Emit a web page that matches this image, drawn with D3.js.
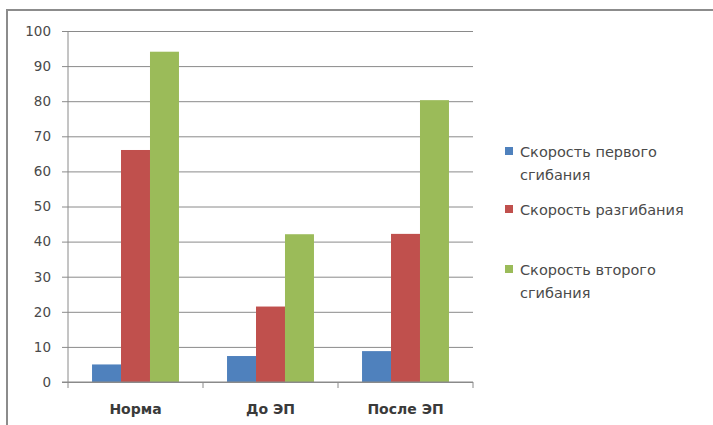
<!DOCTYPE html>
<html><head><meta charset="utf-8">
<script src="https://cdn.jsdelivr.net/npm/d3@7"></script>
<style>body{margin:0;background:#fff;}svg{display:block;}</style>
</head><body>
<svg id="c" width="713" height="425"></svg>
<script>
const categories = ["Норма", "До ЭП", "После ЭП"];
const seriesNames = ["Скорость первого сгибания", "Скорость разгибания", "Скорость второго сгибания"];
const legendLines = [["Скорость первого", "сгибания"], ["Скорость разгибания"], ["Скорость второго", "сгибания"]];
const firstFlex = [5.0, 7.4, 8.8];
const extension = [66.1, 21.5, 42.2];
const secondFlex = [94.1, 42.1, 80.3];
const yTicks = [0, 10, 20, 30, 40, 50, 60, 70, 80, 90, 100];
const colors = ["#4F81BD", "#C0504D", "#9BBB59"];

const series = [firstFlex, extension, secondFlex];
const svg = d3.select("#c");
const font = "'DejaVu Sans', sans-serif";

// outer border (top & left visible)
svg.append("line").attr("x1", 7).attr("x2", 713).attr("y1", 10).attr("y2", 10).attr("stroke", "#8c8c8c").attr("stroke-width", 2);
svg.append("line").attr("x1", 7).attr("x2", 7).attr("y1", 9).attr("y2", 425).attr("stroke", "#8c8c8c").attr("stroke-width", 2);

const L = 68, R = 473, T = 31, B = 382;
const y = d3.scaleLinear().domain([0, 100]).range([B, T]);
const x0 = d3.scaleBand().domain(categories).range([L, R]).paddingInner(0.356).paddingOuter(0.178);
const x1 = d3.scaleBand().domain(d3.range(3)).range([0, x0.bandwidth()]);

// gridlines + y axis
const yAxis = d3.axisLeft(y).tickValues(yTicks).tickSize(-(R - L)).tickPadding(17);
const gy = svg.append("g").attr("transform", `translate(${L},0)`).call(yAxis);
gy.select(".domain").remove();
gy.selectAll(".tick line").attr("stroke", "#8a8a8a").attr("x1", -6).attr("stroke-width", 1);
gy.selectAll(".tick text").attr("font-family", font).attr("font-size", 13.5).attr("fill", "#4a4a4a");
svg.append("line").attr("x1", L).attr("x2", L).attr("y1", T).attr("y2", B).attr("stroke", "#8a8a8a");

// bars
const groups = svg.append("g").selectAll("g").data(categories).join("g")
  .attr("transform", d => `translate(${x0(d)},0)`);
groups.selectAll("rect").data((d, i) => series.map((s, k) => ({k, v: s[i]}))).join("rect")
  .attr("x", d => x1(d.k)).attr("width", x1.bandwidth())
  .attr("y", d => y(d.v)).attr("height", d => B - y(d.v))
  .attr("fill", d => colors[d.k]);

// x axis
const xb = d3.scaleLinear().domain([0, 3]).range([L, R]);
const gx = svg.append("g").attr("transform", `translate(0,${B})`);
gx.append("line").attr("x1", L - 6).attr("x2", R).attr("stroke", "#8a8a8a");
gx.selectAll("line.t").data([0, 1, 2, 3]).join("line").attr("class", "t")
  .attr("x1", d => xb(d)).attr("x2", d => xb(d)).attr("y1", 0).attr("y2", 6).attr("stroke", "#8a8a8a");
gx.selectAll("text").data(categories).join("text")
  .attr("x", d => x0(d) + x0.bandwidth() / 2).attr("y", 32)
  .attr("text-anchor", "middle").attr("font-family", font).attr("font-size", 14).attr("font-weight", "bold")
  .attr("fill", "#3a3a3a").text(d => d);

// legend
const legendY = [152, 210, 270];
const lg = svg.append("g");
seriesNames.forEach((name, i) => {
  lg.append("rect").attr("x", 505).attr("y", legendY[i] - 5).attr("width", 8).attr("height", 8).attr("fill", colors[i]);
  legendLines[i].forEach((ln, j) => {
    lg.append("text").attr("x", 520).attr("y", legendY[i] + 5 + j * 23)
      .attr("font-family", font).attr("font-size", 14.5).attr("fill", "#4a4a4a").text(ln);
  });
});
</script>
</body></html>
